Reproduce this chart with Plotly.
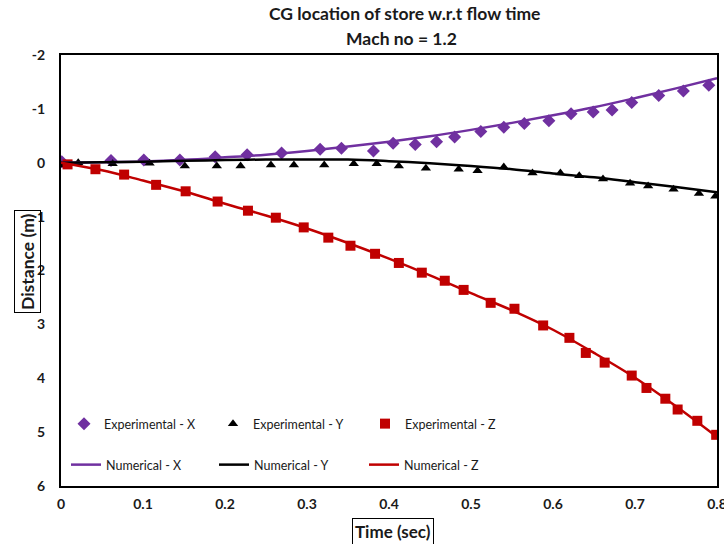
import plotly.graph_objects as go

# ---- data ----
exp_x_t = [0.001, 0.061, 0.101, 0.145, 0.188, 0.227, 0.269, 0.316, 0.342, 0.381, 0.405, 0.432,
           0.458, 0.480, 0.512, 0.540, 0.565, 0.595, 0.622, 0.649, 0.672, 0.696, 0.729, 0.759, 0.790]
exp_x_d = [-0.02, -0.04, -0.05, -0.05, -0.11, -0.15, -0.18, -0.25, -0.27, -0.22, -0.36, -0.34,
           -0.39, -0.48, -0.58, -0.66, -0.73, -0.78, -0.91, -0.94, -0.98, -1.12, -1.25, -1.33, -1.44]

exp_y_t = [0.0, 0.021, 0.063, 0.108, 0.151, 0.190, 0.219, 0.256, 0.284, 0.321, 0.357, 0.385, 0.412,
           0.445, 0.485, 0.508, 0.540, 0.575, 0.609, 0.632, 0.661, 0.694, 0.716, 0.747, 0.778, 0.798]
exp_y_d = [0.04, 0.0, 0.02, 0.01, 0.06, 0.06, 0.06, 0.04, 0.04, 0.04, 0.02, 0.02, 0.06,
           0.10, 0.12, 0.15, 0.08, 0.19, 0.19, 0.24, 0.30, 0.38, 0.43, 0.49, 0.57, 0.62]

exp_z_t = [0.008, 0.042, 0.077, 0.116, 0.152, 0.191, 0.228, 0.262, 0.296, 0.326, 0.353, 0.383, 0.412,
           0.440, 0.468, 0.491, 0.524, 0.553, 0.588, 0.620, 0.640, 0.663, 0.696, 0.714, 0.737, 0.752,
           0.776, 0.799]
exp_z_d = [0.03, 0.12, 0.22, 0.41, 0.53, 0.72, 0.89, 1.02, 1.20, 1.39, 1.54, 1.69, 1.86,
           2.04, 2.19, 2.36, 2.60, 2.71, 3.02, 3.25, 3.53, 3.71, 3.95, 4.18, 4.38, 4.58,
           4.79, 5.05]

num_t = [0.0, 0.05, 0.1, 0.15, 0.2, 0.25, 0.3, 0.35, 0.4, 0.45, 0.5, 0.55, 0.6, 0.65, 0.7, 0.75, 0.8]
num_x = [0.0, -0.01, -0.025, -0.055, -0.10, -0.15, -0.22, -0.30, -0.39, -0.49, -0.61, -0.74,
         -0.88, -1.03, -1.20, -1.38, -1.57]
num_y = [0.0, -0.01, -0.02, -0.035, -0.05, -0.06, -0.06, -0.06, -0.03, 0.01, 0.06, 0.12,
         0.20, 0.27, 0.36, 0.45, 0.55]
num_z = [0.0, 0.14, 0.33, 0.53, 0.76, 0.98, 1.22, 1.49, 1.78, 2.09, 2.42, 2.74,
         3.10, 3.53, 3.99, 4.52, 5.09]

x_ticks = [0, 0.1, 0.2, 0.3, 0.4, 0.5, 0.6, 0.7, 0.8]
x_ticktext = ["0", "0.1", "0.2", "0.3", "0.4", "0.5", "0.6", "0.7", "0.8"]
y_ticks = [-2, -1, 0, 1, 2, 3, 4, 5, 6]
y_ticktext = ["-2", "-1", "0", "1", "2", "3", "4", "5", "6"]

PURPLE = "#7030A0"
BLACK = "#000000"
RED = "#C00000"
TXT = "#1a1a1a"
FONT = "Lato"

W, H = 724, 544
L, R, T, B = 61, 7, 55, 58
pw = W - L - R
ph = H - T - B

def pxx(px):
    return (px - L) / pw

def pxy(py):
    return (T + ph - py) / ph

fig = go.Figure()
fig.add_trace(go.Scatter(x=exp_x_t, y=exp_x_d, mode="markers", name="Experimental - X",
                         marker=dict(symbol="diamond", color=PURPLE, size=10), legend="legend"))
fig.add_trace(go.Scatter(x=exp_y_t, y=exp_y_d, mode="markers", name="Experimental - Y",
                         marker=dict(symbol="triangle-up", color=BLACK, size=9), legend="legend2"))
fig.add_trace(go.Scatter(x=exp_z_t, y=exp_z_d, mode="markers", name="Experimental - Z",
                         marker=dict(symbol="square", color=RED, size=10), legend="legend3"))
fig.add_trace(go.Scatter(x=num_t, y=num_x, mode="lines", name="Numerical - X",
                         line=dict(color=PURPLE, width=2.5, shape="spline"), legend="legend4"))
fig.add_trace(go.Scatter(x=num_t, y=num_y, mode="lines", name="Numerical - Y",
                         line=dict(color=BLACK, width=2.5, shape="spline"), legend="legend5"))
fig.add_trace(go.Scatter(x=num_t, y=num_z, mode="lines", name="Numerical - Z",
                         line=dict(color=RED, width=2.5, shape="spline"), legend="legend6"))

def leg(px, py):
    return dict(x=pxx(px), y=pxy(py), xref="paper", yref="paper", xanchor="left", yanchor="middle",
                orientation="h", bgcolor="rgba(0,0,0,0)", borderwidth=0,
                font=dict(family=FONT, size=12.5, color=TXT))

fig.update_layout(
    width=W, height=H,
    margin=dict(l=L, r=R, t=T, b=B, autoexpand=False),
    paper_bgcolor="white", plot_bgcolor="white",
    font=dict(family=FONT, color=TXT),
    xaxis=dict(range=[0, 0.8], tickvals=x_ticks, ticktext=x_ticktext, showgrid=False, zeroline=False,
               showline=True, linecolor="black", linewidth=2, mirror=True, ticks="",
               ticklabeloverflow="allow", automargin=False,
               tickfont=dict(family=FONT, size=14, color=TXT, weight="bold"), ticklabelstandoff=4),
    yaxis=dict(range=[6, -2], tickvals=y_ticks, ticktext=y_ticktext, showgrid=False, zeroline=False,
               showline=True, linecolor="black", linewidth=2, mirror=True, ticks="",
               ticklabeloverflow="allow", automargin=False,
               tickfont=dict(family=FONT, size=14, color=TXT, weight="bold"), ticklabelstandoff=11),
    legend=leg(64, 424), legend2=leg(213, 424), legend3=leg(365, 424),
    legend4=leg(66, 465), legend5=leg(214, 465), legend6=leg(364, 465),
    showlegend=True,
)

# two-line chart title
fig.add_annotation(text="<b>CG location of store w.r.t flow time</b>", xref="paper", yref="paper",
                   x=pxx(404), y=pxy(14), xanchor="center", yanchor="middle", showarrow=False,
                   font=dict(family=FONT, size=17.5, color=TXT))
fig.add_annotation(text="<b>Mach no = 1.2</b>", xref="paper", yref="paper",
                   x=pxx(401), y=pxy(38), xanchor="center", yanchor="middle", showarrow=False,
                   font=dict(family=FONT, size=17.5, color=TXT))

# boxed axis titles
fig.add_annotation(text="<b>Time (sec)</b>", xref="paper", yref="paper",
                   x=pxx(393), y=pxy(531), xanchor="center", yanchor="middle",
                   showarrow=False, font=dict(family=FONT, size=17, color=TXT),
                   bordercolor="black", borderwidth=1, borderpad=2)
fig.add_annotation(text="<b>Distance (m)</b>", xref="paper", yref="paper",
                   x=pxx(27), y=pxy(262), xanchor="center", yanchor="middle",
                   textangle=-90, showarrow=False, font=dict(family=FONT, size=17.5, color=TXT),
                   bordercolor="black", borderwidth=1, borderpad=2)

fig.write_html("out.html")
